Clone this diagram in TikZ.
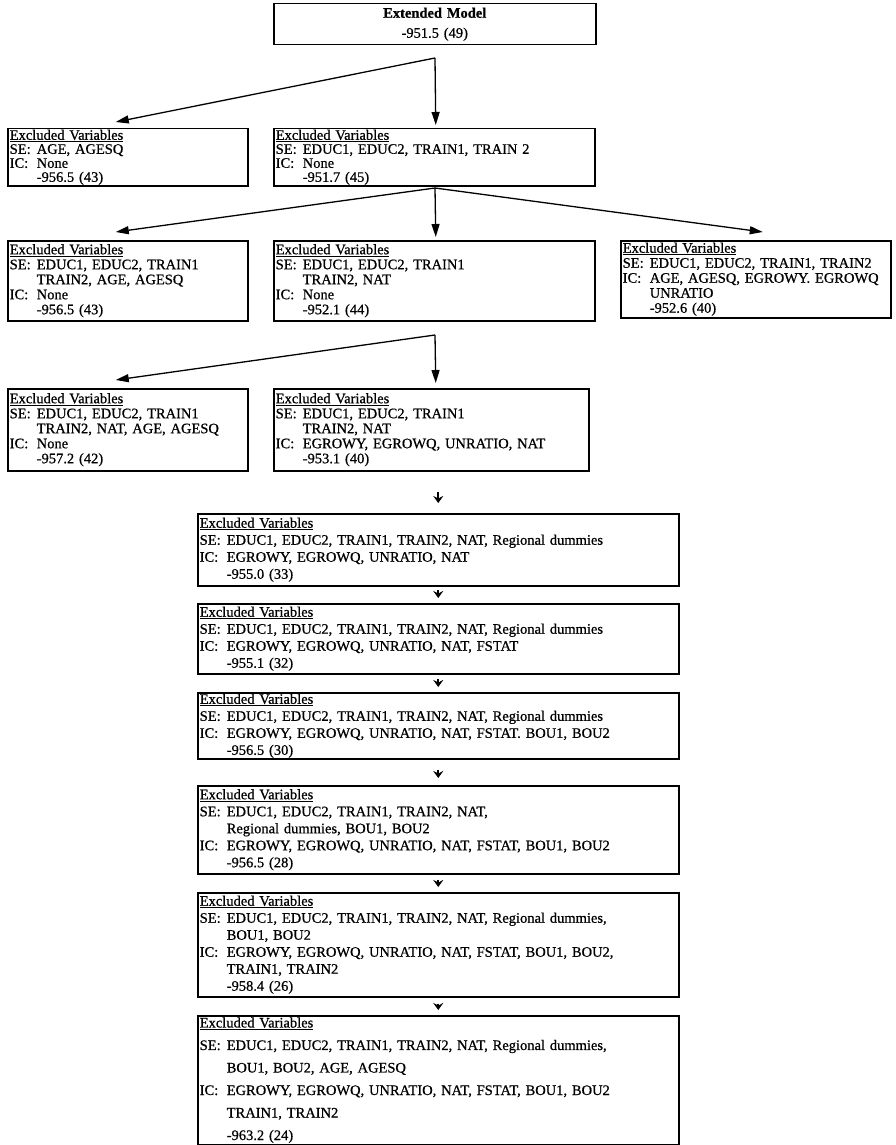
\documentclass[tikz,border=0pt]{standalone}
\usepackage{fontspec}
\setmainfont{Liberation Serif}
\newfontfamily\scanfont{Liberation Serif}[FakeBold=0.7]
\usetikzlibrary{arrows.meta}

\newcommand{\vlab}[1]{\makebox[27pt][l]{#1}}
\newcommand{\vind}{\hspace*{27pt}}
\newcommand{\exvar}{\underline{Excluded Variables}}

\begin{document}
\begin{tikzpicture}
        [x=1pt,y=-1pt,
         vbox/.style={draw, line width=1.5pt, anchor=north west, align=left, inner xsep=2pt, inner ysep=1pt, font=\scanfont\fontsize{14.5}{15}\selectfont},
         tallbox/.style={vbox, text width=477pt, font=\scanfont\fontsize{14.5}{17}\selectfont},
         branch/.style={-{Triangle[length=13pt,width=8pt]}, line width=1.3pt},
         smallarrow/.style={-{Stealth[length=7pt,width=10pt,inset=2.5pt]}, line width=1.8pt}]
        \useasboundingbox (0,0) rectangle (895,1145);

        % model tree
        \node[vbox, align=center, text width=318pt, minimum height=41pt, font=\scanfont\fontsize{14.5}{20}\selectfont] (top) at (273,3)
          {\textbf{Extended Model}\\-951.5 (49)};

        \node[vbox, text width=236pt, minimum height=55pt, font=\scanfont\fontsize{14.5}{14}\selectfont] (a1) at (7,128)
          {\exvar\\ \vlab{SE:}AGE, AGESQ\\ \vlab{IC:}None\\ \vind -956.5 (43)};
        \node[vbox, text width=317pt, minimum height=55pt, font=\scanfont\fontsize{14.5}{14}\selectfont] (a2) at (273,128)
          {\exvar\\ \vlab{SE:}EDUC1, EDUC2, TRAIN1, TRAIN 2\\ \vlab{IC:}None\\ \vind -951.7 (45)};

        \node[vbox, text width=236pt, minimum height=80pt] (b1) at (7,240)
          {\exvar\\ \vlab{SE:}EDUC1, EDUC2, TRAIN1\\ \vind TRAIN2, AGE, AGESQ\\ \vlab{IC:}None\\ \vind -956.5 (43)};
        \node[vbox, text width=317pt, minimum height=80pt] (b2) at (273,240)
          {\exvar\\ \vlab{SE:}EDUC1, EDUC2, TRAIN1\\ \vind TRAIN2, NAT\\ \vlab{IC:}None\\ \vind -952.1 (44)};
        \node[vbox, text width=266pt, minimum height=77pt] (b3) at (620,240)
          {\exvar\\ \vlab{SE:}EDUC1, EDUC2, TRAIN1, TRAIN2\\ \vlab{IC:}AGE, AGESQ, EGROWY. EGROWQ\\ \vind UNRATIO\\ \vind -952.6 (40)};

        \node[vbox, text width=236pt, minimum height=82pt] (c1) at (7,388)
          {\exvar\\ \vlab{SE:}EDUC1, EDUC2, TRAIN1\\ \vind TRAIN2, NAT, AGE, AGESQ\\ \vlab{IC:}None\\ \vind -957.2 (42)};
        \node[vbox, text width=311pt, minimum height=82pt] (c2) at (273,388)
          {\exvar\\ \vlab{SE:}EDUC1, EDUC2, TRAIN1\\ \vind TRAIN2, NAT\\ \vlab{IC:}EGROWY, EGROWQ, UNRATIO, NAT\\ \vind -953.1 (40)};

        % sequence of reductions
        \node[tallbox, minimum height=72pt] (d1) at (197,513)
          {\exvar\\ \vlab{SE:}EDUC1, EDUC2, TRAIN1, TRAIN2, NAT, Regional dummies\\ \vlab{IC:}EGROWY, EGROWQ, UNRATIO, NAT\\ \vind -955.0 (33)};
        \node[tallbox, minimum height=70pt] (d2) at (197,603)
          {\exvar\\ \vlab{SE:}EDUC1, EDUC2, TRAIN1, TRAIN2, NAT, Regional dummies\\ \vlab{IC:}EGROWY, EGROWQ, UNRATIO, NAT, FSTAT\\ \vind -955.1 (32)};
        \node[tallbox, minimum height=66pt] (d3) at (197,692)
          {\exvar\\ \vlab{SE:}EDUC1, EDUC2, TRAIN1, TRAIN2, NAT, Regional dummies\\ \vlab{IC:}EGROWY, EGROWQ, UNRATIO, NAT, FSTAT. BOU1, BOU2\\ \vind -956.5 (30)};
        \node[tallbox, minimum height=88pt] (d4) at (197,785)
          {\exvar\\ \vlab{SE:}EDUC1, EDUC2, TRAIN1, TRAIN2, NAT,\\ \vind Regional dummies, BOU1, BOU2\\ \vlab{IC:}EGROWY, EGROWQ, UNRATIO, NAT, FSTAT, BOU1, BOU2\\ \vind -956.5 (28)};
        \node[tallbox, minimum height=104pt] (d5) at (197,892)
          {\exvar\\ \vlab{SE:}EDUC1, EDUC2, TRAIN1, TRAIN2, NAT, Regional dummies,\\ \vind BOU1, BOU2\\ \vlab{IC:}EGROWY, EGROWQ, UNRATIO, NAT, FSTAT, BOU1, BOU2,\\ \vind TRAIN1, TRAIN2\\ \vind -958.4 (26)};
        \node[tallbox, minimum height=129pt, font=\scanfont\fontsize{14.5}{22.5}\selectfont] (d6) at (197,1015)
          {\exvar\\ \vlab{SE:}EDUC1, EDUC2, TRAIN1, TRAIN2, NAT, Regional dummies,\\ \vind BOU1, BOU2, AGE, AGESQ\\ \vlab{IC:}EGROWY, EGROWQ, UNRATIO, NAT, FSTAT, BOU1, BOU2\\ \vind TRAIN1, TRAIN2\\ \vind -963.2 (24)};

        % branching arrows
        \coordinate (s0) at (435,58);
        \coordinate (s1) at (435,188);
        \coordinate (s2) at (435,335);
        \draw[branch] (s0) -- ([xshift=-12pt,yshift=6pt]a1.north);
        \draw[branch] (s0) -- ([xshift=1.5pt,yshift=3pt]a2.north);
        \draw[branch] (s1) -- ([xshift=-12pt,yshift=8pt]b1.north);
        \draw[branch] (s1) -- ([xshift=1.5pt,yshift=3pt]b2.north);
        \draw[branch] (s1) -- ([xshift=7pt,yshift=8pt]b3.north);
        \draw[branch] (s2) -- ([xshift=-12pt,yshift=8pt]c1.north);
        \draw[branch] (s2) -- ([xshift=4.5pt,yshift=5pt]c2.north);

        \draw[smallarrow] ([xshift=7pt,yshift=-20pt]c2.south) -- ([yshift=10pt]d1.north);
        \foreach \a/\b/\g/\h in {d1/d2/3/5, d2/d3/4/5, d3/d4/10/7, d4/d5/5/5, d5/d6/6/5}
          \draw[smallarrow] ([yshift=-\g pt]\a.south) -- ([yshift=\h pt]\b.north);
      \end{tikzpicture}
\end{document}
